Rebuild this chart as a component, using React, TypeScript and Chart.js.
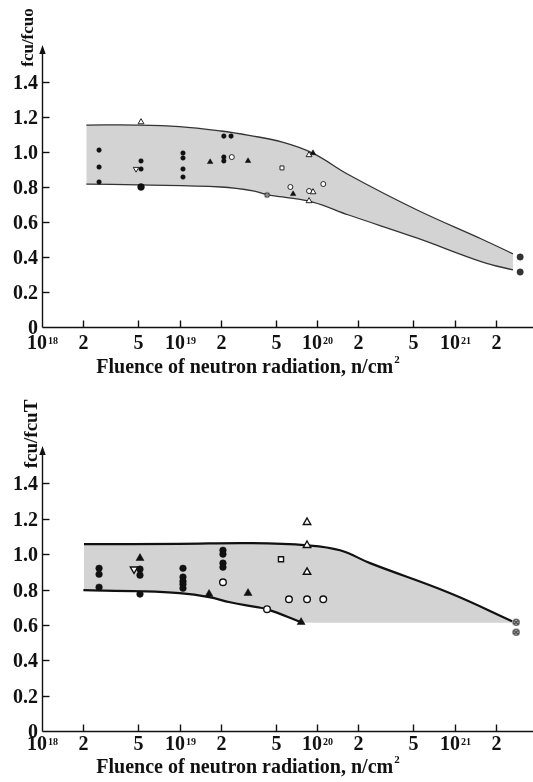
import React, { useEffect, useRef } from 'react';
import { Chart, registerables } from 'chart.js';
Chart.register(...registerables);

type P = [number, number];

// ---- shared axis data ----
const X_MIN = 1e18;
const X_MAX = 3.72e21;
const Y_MIN = 0;
const Y_MAX = 1.6;
const xTickValues = [1e18, 2e18, 5e18, 1e19, 2e19, 5e19, 1e20, 2e20, 5e20, 1e21, 2e21];
const xTickBases = ['10', '2', '5', '10', '2', '5', '10', '2', '5', '10', '2'];
const xTickExps = ['18', '', '', '19', '', '', '20', '', '', '21', ''];
const yTickValues = [0, 0.2, 0.4, 0.6, 0.8, 1.0, 1.2, 1.4];
const xTitle = 'Fluence of neutron radiation, n/cm';
const xTitleSup = '2';

// ---- top chart data ----
const topYTitle = 'fcu/fcuo';
const topUpperX = [2.1e18, 5e18, 1e19, 2e19, 3.2e19, 5.6e19, 9.3e19, 1.7e20, 5.3e20, 1.6e21, 2.66e21];
const topUpperY = [1.154, 1.154, 1.145, 1.12, 1.095, 1.057, 0.994, 0.87, 0.67, 0.5, 0.418];
const topLowerX = [2.1e18, 5e18, 2e19, 3.5e19, 4.3e19, 5.6e19, 9.3e19, 1.7e20, 5.3e20, 1.6e21, 2.66e21];
const topLowerY = [0.817, 0.812, 0.8, 0.777, 0.756, 0.743, 0.714, 0.64, 0.509, 0.371, 0.326];
const topFilledDots: P[] = [
  [2.6e18, 1.011], [2.6e18, 0.914], [2.6e18, 0.829], [5.25e18, 0.949], [5.25e18, 0.903],
  [1.06e19, 0.994], [1.06e19, 0.966], [1.06e19, 0.903], [1.06e19, 0.857],
  [2.1e19, 1.091], [2.1e19, 0.971], [2.1e19, 0.949], [2.37e19, 1.091],
];
const topBigDots: P[] = [[5.25e18, 0.8]];
const topEndDots: P[] = [[3.0e21, 0.4], [3.0e21, 0.314]];
const topOpenDots: P[] = [[2.4e19, 0.971], [6.4e19, 0.8], [8.75e19, 0.777], [1.11e20, 0.817]];
const topFilledTri: P[] = [[1.67e19, 0.943], [3.15e19, 0.949], [6.7e19, 0.76], [9.35e19, 0.994]];
const topOpenTri: P[] = [[5.25e18, 1.171], [8.75e19, 0.983], [8.75e19, 0.72], [9.35e19, 0.771]];
const topDownTri: P[] = [[4.83e18, 0.903]];
const topSquares: P[] = [[5.56e19, 0.909]];
const topCrossed: P[] = [[4.33e19, 0.754]];

// ---- bottom chart data ----
const botYTitle = 'fcu/fcuT';
const botUpperX = [2.02e18, 1e19, 3.26e19, 8.46e19, 1.47e20, 2.43e20, 9.3e20, 2.62e21];
const botUpperY = [1.056, 1.058, 1.062, 1.05, 1.022, 0.949, 0.779, 0.621];
const botLowerX = [2.0e18, 5.2e18, 1e19, 1.64e19, 2.33e19, 3.66e19, 4.33e19, 7.66e19];
const botLowerY = [0.796, 0.79, 0.779, 0.757, 0.728, 0.7, 0.689, 0.615];
const botFlatY = 0.612;
const botFilledDots: P[] = [
  [2.6e18, 0.92], [2.6e18, 0.886], [2.6e18, 0.813],
  [5.16e18, 0.915], [5.16e18, 0.881], [5.16e18, 0.774],
  [1.06e19, 0.92], [1.06e19, 0.87], [1.06e19, 0.847], [1.06e19, 0.83], [1.06e19, 0.807],
  [2.07e19, 1.022], [2.07e19, 1.0], [2.07e19, 0.949], [2.07e19, 0.926],
];
const botFilledTri: P[] = [[5.16e18, 0.977], [1.64e19, 0.774], [3.15e19, 0.779], [7.66e19, 0.615]];
const botOpenTri: P[] = [[8.46e19, 1.18], [8.46e19, 1.05], [8.46e19, 0.898]];
const botDownTri: P[] = [[4.67e18, 0.915]];
const botOpenDots: P[] = [[2.07e19, 0.841], [4.33e19, 0.689], [6.25e19, 0.745], [8.46e19, 0.745], [1.11e20, 0.745]];
const botSquares: P[] = [[5.47e19, 0.971]];
const botCrossed: P[] = [[2.8e21, 0.615], [2.8e21, 0.559]];

const FONT = '"Liberation Serif", "Times New Roman", serif';
const GRAY = '#d3d3d3';

const zip = (xs: number[], ys: number[]) => xs.map((x, i) => ({ x, y: ys[i] }));
const pts = (arr: P[]) => arr.map(([x, y]) => ({ x, y }));

function crossCircle(r: number, color: string, lw: number) {
  const c = document.createElement('canvas');
  const s = Math.ceil(r * 2 + lw * 2 + 2);
  c.width = s;
  c.height = s;
  const g = c.getContext('2d')!;
  const m = s / 2;
  g.fillStyle = '#fff';
  g.strokeStyle = color;
  g.lineWidth = lw;
  g.beginPath();
  g.arc(m, m, r, 0, Math.PI * 2);
  g.fill();
  g.stroke();
  const d = r * 0.72;
  g.beginPath();
  g.moveTo(m - d, m - d);
  g.lineTo(m + d, m + d);
  g.moveTo(m + d, m - d);
  g.lineTo(m - d, m + d);
  g.stroke();
  return c;
}

function markers(data: P[], style: any, filled: boolean, r: number, bw = 1, rotation = 0, color = '#111') {
  return {
    type: 'line',
    data: pts(data),
    showLine: false,
    pointStyle: style,
    pointRadius: r,
    pointHoverRadius: r,
    pointBackgroundColor: filled ? color : '#fff',
    pointBorderColor: color,
    pointBorderWidth: bw,
    pointRotation: rotation,
    order: 0,
  };
}

interface AxCfg {
  yTitle: string;
  yTitleSize: number;
  yTitleX: number;
  yTitleY: number;
  tickSize: number;
  tickBaseline: number;
  titleBaseline: number;
  titleCenter: number;
}

function axesPlugin(cfg: AxCfg) {
  return {
    id: 'customAxes',
    afterDatasetsDraw(chart: any) {
      const { ctx, chartArea: a, scales } = chart;
      const xs = scales.x;
      const ys = scales.y;
      const L = a.left + 0.5;
      const B = Math.round(a.bottom) + 0.5;
      ctx.save();
      ctx.strokeStyle = '#111';
      ctx.fillStyle = '#111';
      ctx.lineWidth = 1.4;
      ctx.beginPath();
      ctx.moveTo(L, B);
      ctx.lineTo(L, a.top + 4);
      ctx.moveTo(L, B);
      ctx.lineTo(a.right, B);
      ctx.stroke();
      ctx.beginPath();
      ctx.moveTo(L, a.top - 2);
      ctx.lineTo(L - 3.2, a.top + 7);
      ctx.lineTo(L + 3.2, a.top + 7);
      ctx.closePath();
      ctx.fill();
      ctx.font = `bold ${cfg.tickSize}px ${FONT}`;
      ctx.textAlign = 'right';
      ctx.textBaseline = 'middle';
      yTickValues.forEach((v) => {
        const py = Math.round(ys.getPixelForValue(v)) + 0.5;
        if (v !== 0) {
          ctx.beginPath();
          ctx.moveTo(L, py);
          ctx.lineTo(L + 7, py);
          ctx.stroke();
        }
        ctx.fillText(v === 0 ? '0' : v.toFixed(1), L - 4.5, py + 1);
      });
      ctx.textAlign = 'left';
      ctx.textBaseline = 'alphabetic';
      xTickValues.forEach((v, i) => {
        const px = Math.round(xs.getPixelForValue(v)) + 0.5;
        if (i > 0) {
          ctx.beginPath();
          ctx.moveTo(px, B);
          ctx.lineTo(px, B - 7);
          ctx.stroke();
        }
        const base = xTickBases[i];
        const sup = xTickExps[i];
        ctx.font = `bold ${cfg.tickSize}px ${FONT}`;
        const wb = ctx.measureText(base).width;
        ctx.font = `bold ${Math.round(cfg.tickSize * 0.5)}px ${FONT}`;
        const ws = sup ? ctx.measureText(sup).width + 1 : 0;
        const x0 = px - (wb + ws) / 2;
        const by = B + cfg.tickBaseline;
        ctx.font = `bold ${cfg.tickSize}px ${FONT}`;
        ctx.fillText(base, x0, by);
        if (sup) {
          ctx.font = `bold ${Math.round(cfg.tickSize * 0.5)}px ${FONT}`;
          ctx.fillText(sup, x0 + wb + 1, by - 5);
        }
      });
      ctx.font = `bold 20px ${FONT}`;
      const wt = ctx.measureText(xTitle).width;
      ctx.font = `bold 11px ${FONT}`;
      const wsup = ctx.measureText(xTitleSup).width + 1;
      const tx = cfg.titleCenter - (wt + wsup) / 2;
      const ty = B + cfg.titleBaseline;
      ctx.font = `bold 20px ${FONT}`;
      ctx.fillText(xTitle, tx, ty);
      ctx.font = `bold 11px ${FONT}`;
      ctx.fillText(xTitleSup, tx + wt + 1, ty - 10);
      ctx.save();
      ctx.translate(cfg.yTitleX, cfg.yTitleY);
      ctx.rotate(-Math.PI / 2);
      ctx.textAlign = 'center';
      ctx.textBaseline = 'alphabetic';
      ctx.font = `bold ${cfg.yTitleSize}px ${FONT}`;
      ctx.fillText(cfg.yTitle, 0, 0);
      ctx.restore();
      ctx.restore();
    },
  };
}

const baseOptions = (padding: any) => ({
  responsive: false,
  animation: false,
  devicePixelRatio: 1,
  events: [],
  layout: { padding, autoPadding: false },
  plugins: { legend: { display: false }, tooltip: { enabled: false }, title: { display: false } },
  scales: {
    x: { type: 'logarithmic', min: X_MIN, max: X_MAX, display: false },
    y: { type: 'linear', min: Y_MIN, max: Y_MAX, display: false },
  },
});

function makeTop(): any {
  return {
    type: 'line',
    data: {
      datasets: [
        {
          data: zip(topUpperX, topUpperY),
          borderColor: '#333',
          borderWidth: 1.3,
          pointRadius: 0,
          fill: '+1',
          backgroundColor: GRAY,
          tension: 0.4,
          order: 10,
        },
        {
          data: zip(topLowerX, topLowerY),
          borderColor: '#333',
          borderWidth: 1.3,
          pointRadius: 0,
          fill: false,
          tension: 0.4,
          order: 9,
        },
        markers(topFilledDots, 'circle', true, 2.3, 0.5),
        markers(topBigDots, 'circle', true, 3.4, 0.5),
        markers(topEndDots, 'circle', true, 3.2, 0.5, 0, '#333'),
        markers(topOpenDots, 'circle', false, 2.5, 0.9),
        markers(topFilledTri, 'triangle', true, 3.2, 0.5),
        markers(topOpenTri, 'triangle', false, 3.4, 0.9),
        markers(topDownTri, 'triangle', false, 3.2, 0.9, 180),
        markers(topSquares, 'rect', false, 2.8, 0.9),
        markers(topCrossed, crossCircle(2.3, '#222', 1), false, 3),
      ],
    },
    options: baseOptions({ left: 42, right: 0, top: 47, bottom: 64 }),
    plugins: [
      axesPlugin({
        yTitle: topYTitle,
        yTitleSize: 17,
        yTitleX: 33,
        yTitleY: 37.5,
        tickSize: 20,
        tickBaseline: 21,
        titleBaseline: 45,
        titleCenter: 248,
      }),
    ],
  };
}

function makeBottom(): any {
  return {
    type: 'line',
    data: {
      datasets: [
        {
          data: zip(botUpperX, botUpperY),
          borderColor: '#111',
          borderWidth: 2.2,
          pointRadius: 0,
          fill: { target: { value: botFlatY }, above: GRAY, below: GRAY },
          tension: 0.4,
          order: 12,
        },
        {
          data: zip(botLowerX, botLowerY),
          borderColor: '#111',
          borderWidth: 2.2,
          pointRadius: 0,
          fill: { target: { value: 0.5 }, above: '#fff', below: '#fff' },
          tension: 0.4,
          order: 11,
        },
        markers(botFilledDots, 'circle', true, 3.3, 0.5),
        markers(botFilledTri, 'triangle', true, 4.6, 0.5),
        markers(botOpenTri, 'triangle', false, 4.3, 1.4),
        markers(botDownTri, 'triangle', false, 4.3, 1.4, 180),
        markers(botOpenDots, 'circle', false, 3.3, 1.4),
        markers(botSquares, 'rect', false, 3.6, 1.4),
        markers(botCrossed, crossCircle(3, '#222', 1.2), false, 3.5),
      ],
    },
    options: baseOptions({ left: 42, right: 0, top: 57, bottom: 51 }),
    plugins: [
      axesPlugin({
        yTitle: botYTitle,
        yTitleSize: 19,
        yTitleX: 37,
        yTitleY: 43,
        tickSize: 20,
        tickBaseline: 18,
        titleBaseline: 41,
        titleCenter: 248,
      }),
    ],
  };
}

function ChartCanvas({ make, height }: { make: () => any; height: number }) {
  const ref = useRef<HTMLCanvasElement | null>(null);
  useEffect(() => {
    const chart = new Chart(ref.current as HTMLCanvasElement, make());
    return () => chart.destroy();
  }, []);
  return <canvas ref={ref} width={533} height={height} style={{ display: 'block', width: 533, height }} />;
}

export default function App() {
  return (
    <div style={{ position: 'absolute', left: 0, top: 0, width: 533, height: 782, background: '#fff' }}>
      <ChartCanvas make={makeTop} height={391} />
      <ChartCanvas make={makeBottom} height={391} />
    </div>
  );
}
